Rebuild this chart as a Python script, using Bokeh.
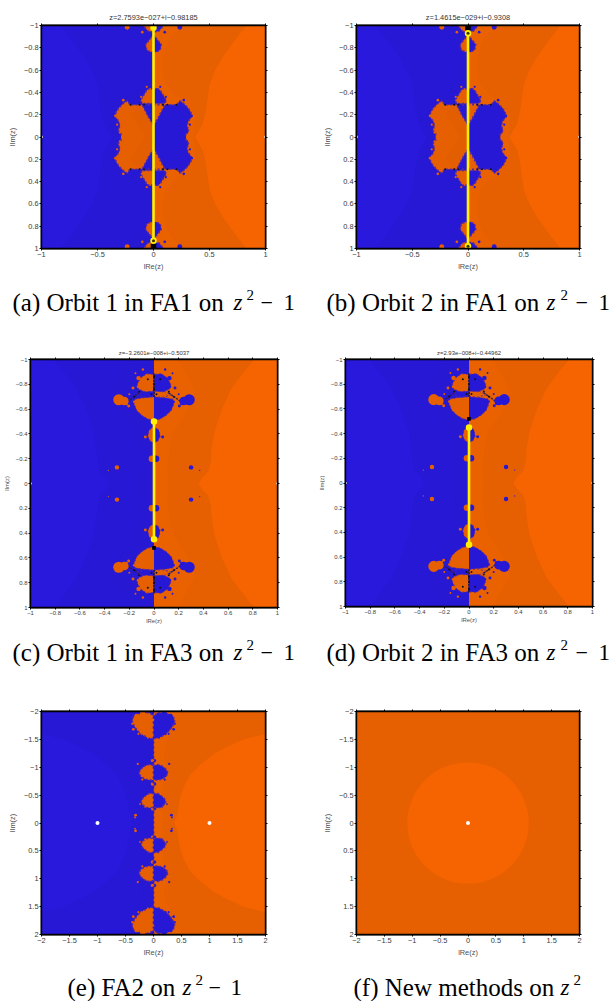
from bokeh.plotting import figure
from bokeh.layouts import column, row
from bokeh.models import Range1d, LinearAxis, FixedTicker, Title
from bokeh.core.properties import value
from bokeh.embed import file_html
from bokeh.resources import INLINE

BLUE = "#2718d6"; BLUE_B = "#2919dc"; BLUE_N = "#2618d3"
OR_D = "#e65f00"; OR_B = "#f56400"; OR_N = "#ea6100"; OR_S = "#e25e00"
EDGE = "#5a2aa0"

ticks_ab_x = [-1, -0.5, 0, 0.5, 1]
ticks_fine = [-1, -0.8, -0.6, -0.4, -0.2, 0, 0.2, 0.4, 0.6, 0.8, 1]
ticks_ef = [-2, -1.5, -1, -0.5, 0, 0.5, 1, 1.5, 2]

# ---- FA1 (z^2-1): upper half, right side; the picture is symmetric
fa1_bright_x = [0.83, 0.72, 0.62, 0.55, 0.50, 0.48, 0.465, 0.44, 0.40, 0.37]
fa1_bright_y = [-1, -0.86, -0.72, -0.6, -0.47, -0.33, -0.22, -0.12, -0.05, 0]
fa1_near_x = [0.26, 0.18, 0.12, 0.09, 0.08, 0.085, 0.11, 0.18, 0.25, 0.30, 0.37, 0.37, 0.36]
fa1_near_y = [-1, -0.92, -0.83, -0.74, -0.66, -0.57, -0.48, -0.39, -0.34, -0.30, -0.2, -0.05, 0]
fa1_body_x = [0, 0, 0.04, 0.10, 0.14, 0.21, 0.235, 0.27, 0.31, 0.335, 0.34, 0.31, 0.30, 0.315, 0.29, 0.29]
fa1_body_y = [0, -0.1, -0.17, -0.29, -0.29, -0.29, -0.325, -0.30, -0.26, -0.22, -0.18, -0.14, -0.10, -0.06, -0.03, 0]
fa1_tri_x = [0, 0.10, 0.04, 0]
fa1_tri_y = [-0.29, -0.29, -0.17, -0.11]
fa1_cap_x = [0, 0.10, 0.115, 0.09, 0.06, 0.03, 0]
fa1_cap_y = [-0.30, -0.30, -0.33, -0.37, -0.42, -0.44, -0.42]
fa1_far_x = [0, 0.03, 0.07, 0.06, 0.02, 0]
fa1_far_y = [-0.92, -0.88, -0.83, -0.78, -0.76, -0.77]
fa1_rim_x = [0, 0.09, 0.05, 0]
fa1_rim_y = [-1, -1, -0.95, -0.94]
fa1_dot_x = [0.235, 0.10, 0.34, 0.325, 0.30, 0.27, 0.29, 0.06, 0.11]
fa1_dot_y = [-0.985, -0.94, -0.19, -0.11, -0.04, -0.33, -0.10, -0.45, -0.36]
fa1_dot_r = [0.022, 0.012, 0.012, 0.01, 0.01, 0.012, 0.008, 0.01, 0.01]
fa1_black_x = [0.085, 0.125, 0.205]
fa1_black_y = [-0.29, -0.29, -0.29]
fa1_shade_x = [-0.2, -0.07, -0.2, -0.13, 0, -0.02, -0.13]
fa1_shade_y = [-0.2, 0, 0.2, 0.28, 0.15, -0.15, -0.28]

# ---- FA3 (z^2-1)
fa3_bright_x = [0.81, 0.72, 0.63, 0.55, 0.49, 0.465, 0.46, 0.44, 0.39, 0.36]
fa3_bright_y = [-1, -0.89, -0.77, -0.6, -0.42, -0.27, -0.18, -0.1, -0.05, 0]
fa3_near_x = [0.2, 0.24, 0.30, 0.33, 0.32, 0.25, 0.16, 0.13, 0.11, 0.12]
fa3_near_y = [-1, -0.92, -0.82, -0.75, -0.68, -0.55, -0.42, -0.3, -0.15, 0]
fa3_lens_x = [0, 0.05, 0.10, 0.14, 0.16, 0.155, 0.10, 0]
fa3_lens_y = [-0.51, -0.52, -0.55, -0.59, -0.64, -0.68, -0.69, -0.70]
fa3_band_x = [0, 0.07, 0.14, 0.08, 0]
fa3_band_y = [-0.70, -0.695, -0.715, -0.745, -0.745]
fa3_crown_x = [0, 0.07, 0.125, 0.135, 0.11, 0.06, 0]
fa3_crown_y = [-0.745, -0.74, -0.76, -0.80, -0.85, -0.885, -0.88]
fa3_low_x = [0, 0.04, 0.05, 0.03, 0]
fa3_low_y = [-0.46, -0.43, -0.38, -0.34, -0.33]
fa3_chain_x = [0.12, 0.19, 0.23]
fa3_chain_y = [-0.73, -0.68, -0.65]
fa3_dot_x = [0.285, 0.24, 0.125, 0.205, 0.30, 0.017, 0.07, 0.37, 0.17, 0.09, 0.15, 0.2, 0.07, 0.16, 0.13, 0.22]
fa3_dot_y = [-0.675, -0.665, -0.85, -0.625, -0.13, -0.2, -0.375, -0.105, -0.77, -0.92, -0.89, -0.72, -0.58, -0.66, -0.78, -0.64]
fa3_dot_r = [0.045, 0.035, 0.018, 0.012, 0.018, 0.026, 0.012, 0.005, 0.012, 0.01, 0.008, 0.008, 0.006, 0.01, 0.01, 0.009]
fa3_black_x = [0.0, 0.0, 0.0, 0.02, 0.05, 0.12, 0.16]
fa3_black_y = [-0.86, -0.8, -0.76, -0.72, -0.84, -0.74, -0.70]

# ---- FA2 (z^2-1)
fa2_bright_x = [2, 1.6, 1.3, 1.08, 0.85, 0.66, 0.54, 0.46, 0.44, 0.42, 0.37]
fa2_bright_y = [-1.6, -1.5, -1.36, -1.24, -1.06, -0.88, -0.65, -0.4, -0.25, -0.12, 0]
fa2_near_x = [0.51, 0.42, 0.33, 0.25, 0.18, 0.24, 0.2, 0.18, 0.14, 0.18]
fa2_near_y = [-2, -1.85, -1.7, -1.45, -1.24, -1.0, -0.85, -0.7, -0.3, 0]
fa2_top_x = [0, 0.1, 0.2, 0.28, 0.34, 0.38, 0.36, 0.3, 0.2, 0.08, 0]
fa2_top_y = [-1.51, -1.53, -1.58, -1.65, -1.73, -1.82, -1.9, -1.95, -1.97, -1.98, -1.92]
fa2_mid_x = [0, 0.08, 0.16, 0.22, 0.26, 0.23, 0.16, 0.08, 0]
fa2_mid_y = [-1.03, -1.05, -1.02, -0.97, -0.9, -0.84, -0.79, -0.77, -0.77]
fa2_low_x = [0, 0.08, 0.15, 0.2, 0.22, 0.19, 0.12, 0.05, 0]
fa2_low_y = [-0.53, -0.53, -0.48, -0.43, -0.38, -0.32, -0.28, -0.27, -0.29]
fa2_dot_x = [0.19, 0.33, 0.38, 0.36, 0.31, 0.32, 0.33, 0.02, 0.02, 0.02, 0.02, 0.27, 0.1, 0.22, 0.28, 0.2, 0.15, 0.24]
fa2_dot_y = [-1.96, -1.85, -1.78, -1.68, -1.93, -0.14, -0.10, -1.85, -1.12, -0.7, -0.25, -1.6, -1.53, -1.6, -1.06, -0.78, -0.29, -0.34]
fa2_dot_r = [0.05, 0.035, 0.02, 0.025, 0.03, 0.025, 0.015, 0.035, 0.03, 0.03, 0.025, 0.02, 0.015, 0.015, 0.02, 0.02, 0.016, 0.016]

# ---- new methods on z^2
new_circle_r = [1.09]
root_x = [-1, 1]
root_z2_x = [0]

orbit_a_y = [-0.98, 0.93]
orbit_b_y = [-0.93, 0.98]
orbit_c_y = [-0.5, 0.45]
orbit_d_y = [-0.45, 0.5]

COL_X = [0, 303]
CELL_W = [303, 307]
ROW_TOP = [0, 333, 668]
ROW_H = [285, 296, 290]
CAP_H = [48, 39, 43]
CAP_LIFT = 7


def make(col, rw, fl, ft, fw, fh, R, ticks_x, ticks_y, fs, title=None):
    left = fl - COL_X[col]
    top = ft - ROW_TOP[rw]
    big = fs > 7
    p = figure(frame_width=fw, frame_height=fh,
               width=CELL_W[col], height=ROW_H[rw],
               x_range=Range1d(-R, R), y_range=Range1d(R, -R),
               output_backend="svg", toolbar_location=None,
               min_border_left=left, min_border_top=top,
               min_border_right=CELL_W[col] - left - fw,
               min_border_bottom=ROW_H[rw] - top - fh,
               x_axis_location=None, y_axis_location=None,
               outline_line_color="black", outline_line_width=1.8)
    p.grid.visible = False
    p.background_fill_color = BLUE
    fmt = lambda v: str(v).replace("-", "\u2212")
    for loc in ("left", "below", "right", "above"):
        t = ticks_y if loc in ("left", "right") else ticks_x
        ax = LinearAxis(ticker=FixedTicker(ticks=t),
                        major_label_overrides={v: fmt(v) for v in t},
                        major_tick_in=0, major_tick_out=2, minor_tick_out=0, minor_tick_in=0,
                        major_tick_line_color="black", major_tick_line_width=1,
                        axis_line_color="black", axis_line_width=1.4,
                        major_label_text_font="Liberation Sans",
                        major_label_text_font_size=f"{fs}px",
                        major_label_text_color="#3a3a3a",
                        major_label_standoff=1,
                        axis_label_text_font="Liberation Sans",
                        axis_label_text_font_size=f"{fs}px",
                        axis_label_text_font_style="normal",
                        axis_label_text_color="#505050",
                        axis_label_standoff=2)
        if loc == "left":
            ax.axis_label = "lIm(z)"
            ax.major_label_orientation = "horizontal"
            ax.axis_label_standoff = 4 if big else 3
        elif loc == "below":
            ax.axis_label = "lRe(z)"
            ax.axis_label_standoff = 2 if big else 0
        else:
            ax.major_label_text_color = None
            ax.major_label_text_font_size = "1px"
        p.add_layout(ax, loc)
    if title:
        p.add_layout(Title(text=title, align="center", text_font="Liberation Sans",
                           text_font_size=f"{fs}px", text_font_style="normal",
                           text_color="#333333", standoff=3), "above")
    return p


def strip(col, rw, parts):
    """Caption strip: parts are (page x, page baseline, text, size, style)."""
    top = ROW_TOP[rw] + ROW_H[rw]
    h = CAP_H[rw]
    w = CELL_W[col]
    x0 = COL_X[col]
    s = figure(width=w, height=h, x_range=Range1d(x0, x0 + w), y_range=Range1d(top + h, top),
               output_backend="svg", toolbar_location=None, outline_line_color=None,
               min_border=0, x_axis_location=None, y_axis_location=None)
    s.grid.visible = False
    for (px, base, t, size, style) in parts:
        s.text([px], [base - CAP_LIFT], text=[t], text_font=value("Liberation Serif"),
               text_font_size=f"{size}px", text_font_style=style, text_color="black",
               text_baseline="alphabetic", text_align="left")
    return s


def cap(col, rw, pre, xs, base):
    parts = [(xs[0], base, pre, 25, "normal"),
             (xs[1], base, "z", 23, "italic"),
             (xs[2], base - 8, "2", 15, "normal")]
    if len(xs) > 3:
        parts += [(xs[3], base, "\u2212", 22, "normal"), (xs[4], base, "1", 23, "normal")]
    return strip(col, rw, parts)


def ground(p, R, bx, by, nx, ny):
    p.patches([[0, R, R, 0]], [[-R, -R, R, R]], fill_color=OR_D, line_color=None)
    p.patches([[-R, 0, 0, -R]], [[-R, -R, R, R]], fill_color=BLUE, line_color=None)
    ux = list(bx) + list(bx[-2::-1])
    uy = list(by) + [-v for v in by[-2::-1]]
    rx = ux + [R, R] if by[0] == -R else [R] + ux + [R]
    ry = uy + [R, -R] if by[0] == -R else [by[0]] + uy + [-by[0]]
    p.patches([rx], [ry], fill_color=OR_B, line_color=None)
    p.patches([[-v for v in rx]], [ry], fill_color=BLUE_B, line_color=None)
    mx = list(nx) + list(nx[-2::-1])
    my = list(ny) + [-v for v in ny[-2::-1]]
    p.patches([[0] + mx + [0]], [[-R] + my + [R]], fill_color=OR_N, line_color=None)
    p.patches([[0] + [-v for v in mx] + [0]], [[-R] + my + [R]], fill_color=BLUE_N, line_color=None)


def blob(p, xs, ys, right_blue=True, lw=1.5):
    rc, lc = (BLUE, OR_D) if right_blue else (OR_D, BLUE)
    nx = [-v for v in xs]
    ny = [-v for v in ys]
    p.patches([xs, xs], [ys, ny], fill_color=rc, line_color=None)
    p.patches([nx, nx], [ys, ny], fill_color=lc, line_color=None)
    p.multi_line([xs, xs, nx, nx], [ys, ny, ys, ny], line_color=EDGE, line_width=lw, line_dash="2 2")


def dots(p, xs, ys, rs):
    n = [-v for v in xs]; m = [-v for v in ys]
    p.circle(xs + xs, ys + m, radius=rs + rs, fill_color=BLUE, line_color=None)
    p.circle(n + n, ys + m, radius=rs + rs, fill_color=OR_D, line_color=None)


def blacks(p, xs, ys, r):
    n = [-v for v in xs]; m = [-v for v in ys]
    p.circle(xs + n + xs + n, ys + ys + m + m, radius=r, fill_color="#101018", line_color=None)


def fa1(p):
    ground(p, 1, fa1_bright_x, fa1_bright_y, fa1_near_x, fa1_near_y)
    blob(p, fa1_body_x, fa1_body_y, True)
    p.patches([fa1_shade_x], [fa1_shade_y], fill_color=OR_S, line_color=None)
    blob(p, fa1_tri_x, fa1_tri_y, False)
    blob(p, fa1_cap_x, fa1_cap_y, True)
    blob(p, fa1_far_x, fa1_far_y, True)
    blob(p, fa1_rim_x, fa1_rim_y, True)
    dots(p, fa1_dot_x, fa1_dot_y, fa1_dot_r)
    blacks(p, fa1_black_x, fa1_black_y, 0.009)


def fa3(p):
    ground(p, 1, fa3_bright_x, fa3_bright_y, fa3_near_x, fa3_near_y)
    blob(p, fa3_lens_x, fa3_lens_y, True, 1)
    blob(p, fa3_band_x, fa3_band_y, False, 1)
    blob(p, fa3_crown_x, fa3_crown_y, True, 1)
    blob(p, fa3_low_x, fa3_low_y, True, 1)
    for sx in (1, -1):
        for sy in (1, -1):
            p.line([sx * v for v in fa3_chain_x], [sy * v for v in fa3_chain_y],
                   line_color="#301a50", line_width=1.4, line_dash="2 1")
            p.line([0, 0], [sy * v for v in (fa3_crown_y[-2], fa3_band_y[0])],
                   line_color="#301a50", line_width=2, line_dash="2 1")
    dots(p, fa3_dot_x, fa3_dot_y, fa3_dot_r)
    blacks(p, fa3_black_x, fa3_black_y, 0.008)


def roots(p, xs, r):
    p.circle(xs, [0] * len(xs), radius=r, fill_color="white", line_color=None)


def orbit(p, oy, ring_y, block_y, bw=0.05):
    if block_y is not None:
        p.rect([0], [block_y], width=bw, height=bw, fill_color="black", line_color=None)
    p.line([0, 0], oy, line_color="#fff200", line_width=2.6)
    p.circle([0, 0], oy, size=6.5, fill_color="#fff200", line_color=None)
    if ring_y is not None:
        p.circle([0], [ring_y], size=3, fill_color="#403000", line_color=None)


# (a)
pa = make(0, 0, 41, 25, 224, 223, 1, ticks_ab_x, ticks_fine, 7.4, "z=2.7593e\u2212027+i\u22120.98185")
fa1(pa); roots(pa, root_x, 0.013); orbit(pa, orbit_a_y, 0.93, 0.98)
ca = cap(0, 0, "(a) Orbit 1 in FA1 on", [12, 233, 246, 260, 283], 309)

# (b)
pb = make(1, 0, 356, 25, 223, 223, 1, ticks_ab_x, ticks_fine, 7.4, "z=1.4615e\u2212029+i\u22120.9308")
fa1(pb); roots(pb, root_x, 0.013); orbit(pb, orbit_b_y, -0.93, -0.98)
pb.circle([0], [0.98], size=3, fill_color="#403000", line_color=None)
cb = cap(1, 0, "(b) Orbit 2 in FA1 on", [326, 546, 560, 575, 598], 309)

# (c)
pc = make(0, 1, 29, 358, 247, 248, 1, ticks_fine, ticks_fine, 5.9, "z=\u22123.2601e\u2212008+i\u22120.5037")
fa3(pc); roots(pc, root_x, 0.011); orbit(pc, orbit_c_y, None, 0.52, 0.03)
cc = cap(0, 1, "(c) Orbit 1 in FA3 on", [12, 233, 246, 260, 283], 659)

# (d)
pd_ = make(1, 1, 344, 359, 247, 247, 1, ticks_fine, ticks_fine, 5.9, "z=2.93e\u2212008+i\u22120.44962")
fa3(pd_); roots(pd_, root_x, 0.011); orbit(pd_, orbit_d_y, None, -0.52, 0.03)
cd = cap(1, 1, "(d) Orbit 2 in FA3 on", [326, 546, 560, 575, 598], 659)

# (e)
pe = make(0, 2, 41, 711, 224, 223, 2, ticks_ef, ticks_ef, 7.4)
ground(pe, 2, fa2_bright_x, fa2_bright_y, fa2_near_x, fa2_near_y)
blob(pe, fa2_top_x, fa2_top_y, True)
blob(pe, fa2_mid_x, fa2_mid_y, True)
blob(pe, fa2_low_x, fa2_low_y, True)
dots(pe, fa2_dot_x, fa2_dot_y, fa2_dot_r)
pe.line([0, 0], [-2, 2], line_color=BLUE, line_width=1.6, line_dash="2 3")
roots(pe, root_x, 0.036)
ce = cap(0, 2, "(e) FA2 on", [67, 182, 195, 208, 230], 993)

# (f)
pf = make(1, 2, 356, 711, 223, 223, 2, ticks_ef, ticks_ef, 7.4)
pf.patches([[-2, 2, 2, -2]], [[-2, -2, 2, 2]], fill_color=OR_D, line_color=None)
pf.circle(root_z2_x, [0], radius=new_circle_r, fill_color=OR_B, line_color=None)
roots(pf, root_z2_x, 0.036)
cf = cap(1, 2, "(f) New methods on", [353, 560, 573], 993)

layout = column(row(pa, pb), row(ca, cb), row(pc, pd_), row(cc, cd), row(pe, pf), row(ce, cf))
open("out.html", "w").write(file_html(layout, INLINE))
